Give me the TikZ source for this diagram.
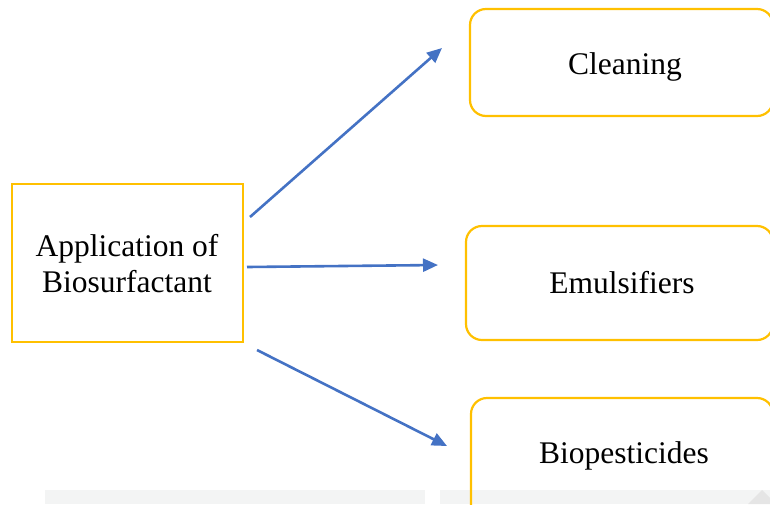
\documentclass[tikz,border=0pt]{standalone}
\usepackage{fontspec}
\setmainfont{Liberation Serif}
\usetikzlibrary{arrows.meta}
\definecolor{gold}{HTML}{FFC000}
\definecolor{arrowblue}{HTML}{4472C4}
\definecolor{strip}{HTML}{F3F4F4}
\begin{document}
\begin{tikzpicture}[x=1pt,y=-1pt,
  mainbox/.style={draw=gold,line width=2.2pt},
  rbox/.style={draw=gold,line width=2.2pt,rounded corners=16pt},
  lbl/.style={font=\fontsize{31.5}{36}\selectfont,align=center,anchor=base,inner sep=0pt},
  conn/.style={draw=arrowblue,line width=2.6pt,-{Triangle[length=15pt,width=13pt]}}]
\useasboundingbox (0,0) rectangle (770,504);
% faint grey strip at the bottom
\fill[strip] (45,490) rectangle (425,504);
\fill[strip] (440,490) rectangle (770,504);
\fill[gray!20] (748,504) -- (762,490) -- (776,504) -- cycle;
% boxes
\draw[mainbox] (12,184) rectangle (243,342);
\node[lbl] (app) at (127,292) {Application of\\Biosurfactant};
\draw[rbox] (470,9) rectangle (773,116);
\node[lbl] (clean) at (625,74) {Cleaning};
\draw[rbox] (466,226) rectangle (773,340);
\node[lbl] (emul) at (622,293) {Emulsifiers};
\draw[rbox] (471,398) rectangle (773,540);
\node[lbl] (bio) at (624,463) {Biopesticides};
% connectors
\coordinate (s1) at (250,217); \coordinate (e1) at (442,48);
\coordinate (s2) at (247,267); \coordinate (e2) at (438,265);
\coordinate (s3) at (257,350); \coordinate (e3) at (447,446);
\draw[conn] (s1) -- (e1);
\draw[conn] (s2) -- (e2);
\draw[conn] (s3) -- (e3);
\end{tikzpicture}
\end{document}
